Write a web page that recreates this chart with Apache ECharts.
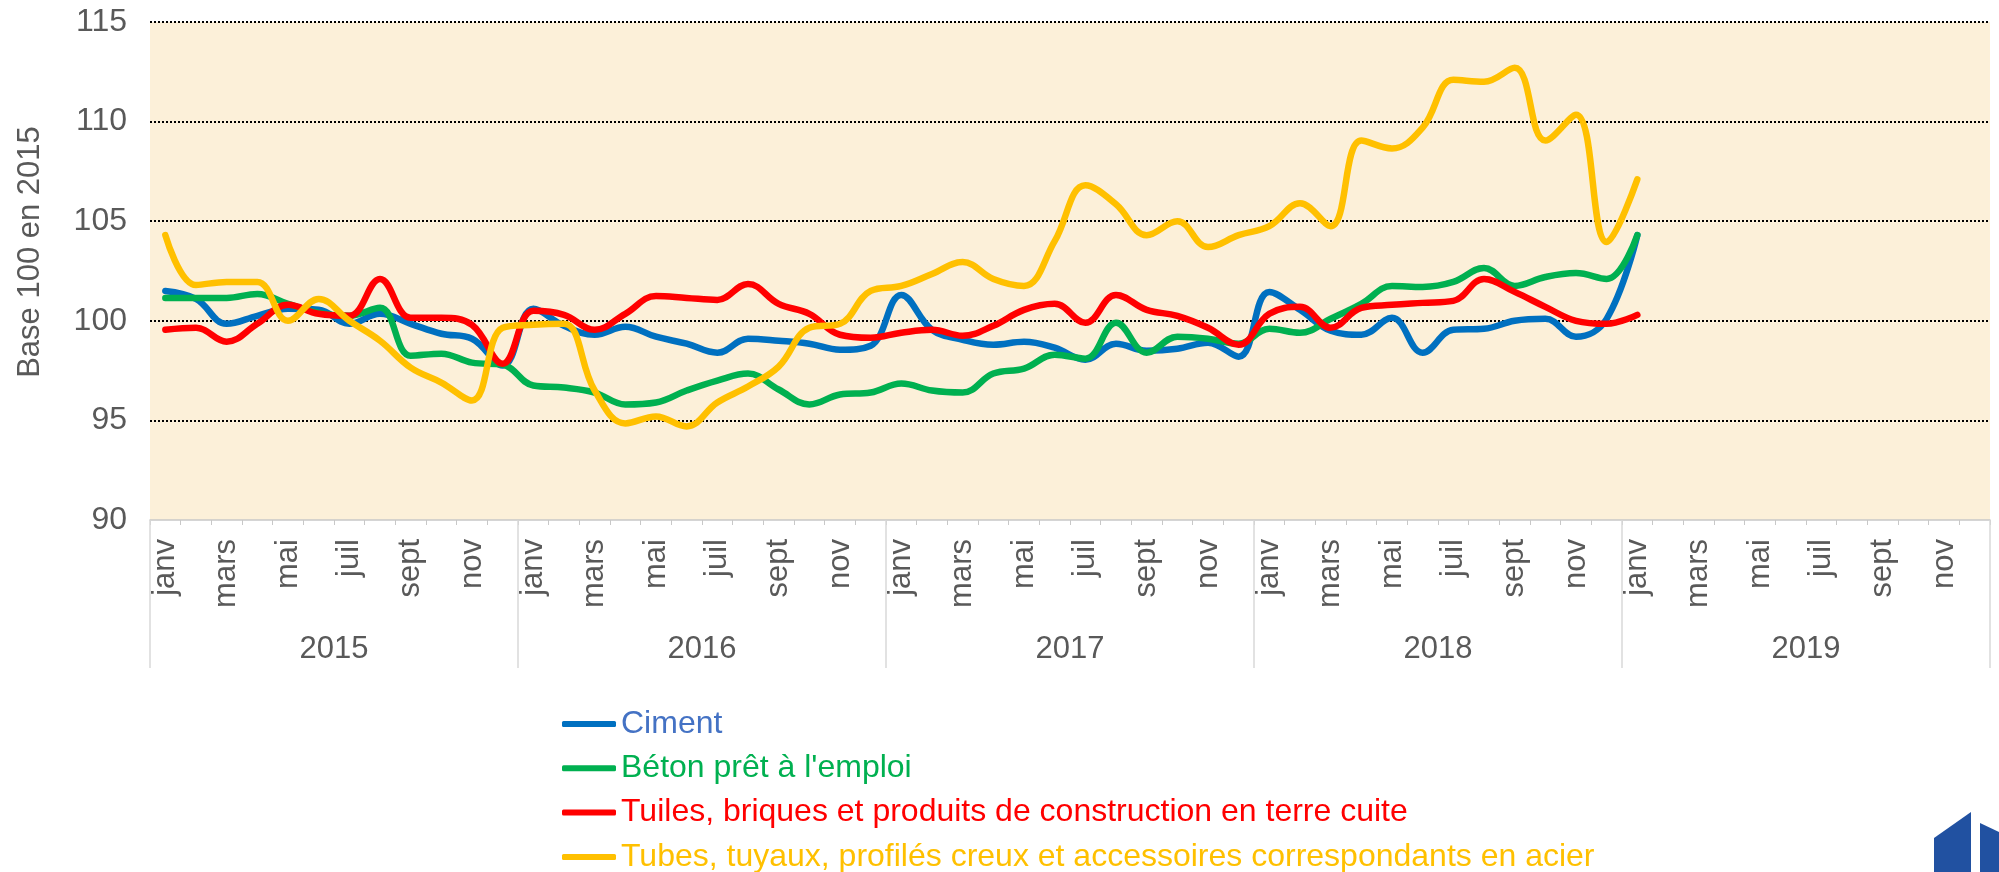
<!DOCTYPE html>
<html>
<head>
<meta charset="utf-8">
<script src="https://cdn.jsdelivr.net/npm/echarts@6/dist/echarts.min.js"></script>
<style>
  html, body { margin: 0; padding: 0; background: #fff; }
  #chart { width: 1999px; height: 872px; }
</style>
</head>
<body>
<div id="chart"></div>
<script>
// axis labels
const years = ['2015', '2016', '2017', '2018', '2019']
const monthLabels = ['janv', 'févr', 'mars', 'avr', 'mai', 'juin', 'juil', 'août', 'sept', 'oct', 'nov', 'déc']
const yTicks = [90, 95, 100, 105, 110, 115]

// indices base 100 en 2015, janv 2015 -> janv 2019
const ciment = [
  101.5, 101.1, 99.85, 100.25, 100.6, 100.55, 99.85, 100.35, 99.85, 99.35, 99.1, 97.75,
  100.6, 99.75, 99.3, 99.7, 99.2, 98.85, 98.4, 99.1, 99.0, 98.85, 98.55, 98.75,
  101.3, 99.55, 99.05, 98.8, 98.95, 98.65, 98.05, 98.85, 98.5, 98.6, 98.9, 98.2,
  101.45, 100.55, 99.5, 99.3, 100.15, 98.4, 99.55, 99.6, 100.0, 100.1, 99.2, 100.1,
  104.3
]
const beton = [
  101.15, 101.15, 101.15, 101.35, 100.85, 100.4, 100.25, 100.65, 98.25, 98.35, 97.9, 97.8,
  96.75, 96.65, 96.4, 95.8, 95.9, 96.5, 97.0, 97.35, 96.55, 95.8, 96.3, 96.4,
  96.85, 96.5, 96.4, 97.35, 97.6, 98.3, 98.1, 99.9, 98.4, 99.2, 99.1, 98.85,
  99.6, 99.4, 100.1, 100.85, 101.75, 101.7, 101.95, 102.65, 101.75, 102.2, 102.4, 102.1,
  104.3
]
const tuiles = [
  99.55, 99.65, 98.95, 99.85, 100.8, 100.35, 100.25, 102.1, 100.15, 100.15, 99.8, 97.85,
  100.5, 100.3, 99.55, 100.35, 101.25, 101.15, 101.05, 101.85, 100.85, 100.35, 99.3, 99.15,
  99.4, 99.55, 99.25, 99.75, 100.55, 100.85, 99.9, 101.3, 100.55, 100.25, 99.65, 98.8,
  100.35, 100.7, 99.65, 100.65, 100.8, 100.9, 101.0, 102.1, 101.45, 100.7, 100.0, 99.85,
  100.3
]
const tubes = [
  104.3, 101.8, 101.95, 101.95, 100.0, 101.1, 100.0, 99.0, 97.65, 96.9, 96.0, 99.65,
  99.8, 99.85, 96.5, 94.85, 95.2, 94.7, 95.9, 96.7, 97.7, 99.65, 99.85, 101.5,
  101.75, 102.35, 102.95, 102.1, 101.75, 104.0, 106.8, 105.85, 104.3, 105.0, 103.7, 104.3,
  104.75, 105.9, 104.75, 109.05, 108.65, 109.7, 112.1, 112.0, 112.7, 109.05, 110.35, 103.95,
  107.1
]

const seriesNames = [
  'Ciment',
  'Béton prêt à l\'emploi',
  'Tuiles, briques et produits de construction en terre cuite',
  'Tubes, tuyaux, profilés creux et accessoires correspondants en acier'
]
const lineColors = ['#0070C0', '#00B050', '#FF0000', '#FFC000']
const legendColors = ['#4472C4', '#00B050', '#FF0000', '#FFC000']

// une catégorie par mois, 5 années
const months = []
years.forEach(y => {
  monthLabels.forEach((m, k) => months.push(y + '-' + k))
})

const chart = echarts.init(document.getElementById('chart'))
const textColor = '#595959'
const font = 'Arial, "Liberation Sans", sans-serif'

chart.setOption({
  animation: false,
  textStyle: { fontFamily: font },
  grid: {
    left: 150,
    right: 9,
    top: 22,
    bottom: 352,
    show: true,
    backgroundColor: '#FCF0D9',
    borderWidth: 0
  },
  legend: {
    orient: 'vertical',
    left: 562,
    top: 708,
    height: 200,
    padding: 0,
    itemGap: 12.3,
    itemWidth: 54,
    itemHeight: 6,
    icon: 'roundRect',
    textStyle: { fontSize: 32, fontFamily: font },
    data: seriesNames.map((n, k) => ({
      name: n,
      textStyle: { color: legendColors[k] }
    }))
  },
  xAxis: [{
    type: 'category',
    position: 'bottom',
    data: months,
    boundaryGap: true,
    axisLine: { lineStyle: { color: '#C8C8C8', width: 1.5 } },
    axisTick: { show: true, interval: 0, length: 5, lineStyle: { color: '#C8C8C8' } },
    axisLabel: {
      interval: 1,
      rotate: 90,
      margin: 19,
      fontSize: 31,
      color: textColor,
      formatter: v => monthLabels[+v.split('-')[1]]
    },
    splitLine: { show: false }
  }, {
    type: 'category',
    position: 'bottom',
    data: years,
    boundaryGap: true,
    axisLine: { show: false },
    axisTick: { show: true, interval: 0, length: 148, lineStyle: { color: '#D9D9D9', width: 1.5 } },
    axisLabel: { margin: 114, fontSize: 31, color: textColor },
    splitLine: { show: false }
  }],
  yAxis: {
    type: 'value',
    min: yTicks[0],
    max: yTicks[yTicks.length - 1],
    interval: 5,
    name: 'Base 100 en 2015',
    nameLocation: 'middle',
    nameGap: 104,
    nameTextStyle: { fontSize: 31, color: textColor, padding: [0, 0, 0, 38] },
    axisLine: { show: false },
    axisTick: { show: false },
    axisLabel: { fontSize: 32, color: textColor, margin: 23 },
    splitLine: {
      show: true,
      showMinLine: false,
      lineStyle: { color: '#000', type: 'dotted', width: 2 }
    }
  },
  series: [ciment, beton, tuiles, tubes].map((d, k) => ({
    name: seriesNames[k],
    type: 'line',
    xAxisIndex: 0,
    data: d,
    smooth: 0.4,
    showSymbol: false,
    symbol: 'none',
    color: lineColors[k],
    lineStyle: { width: 6.5, color: lineColors[k], cap: 'round', join: 'round' }
  })),
  // logo coupé en bas à droite
  graphic: [{
    type: 'polygon',
    shape: { points: [[1934, 838], [1971, 812], [1971, 872], [1934, 872]] },
    style: { fill: '#2151A1' }
  }, {
    type: 'polygon',
    shape: { points: [[1980, 823], [1999, 832], [1999, 872], [1980, 872]] },
    style: { fill: '#2151A1' }
  }]
})
</script>
</body>
</html>
